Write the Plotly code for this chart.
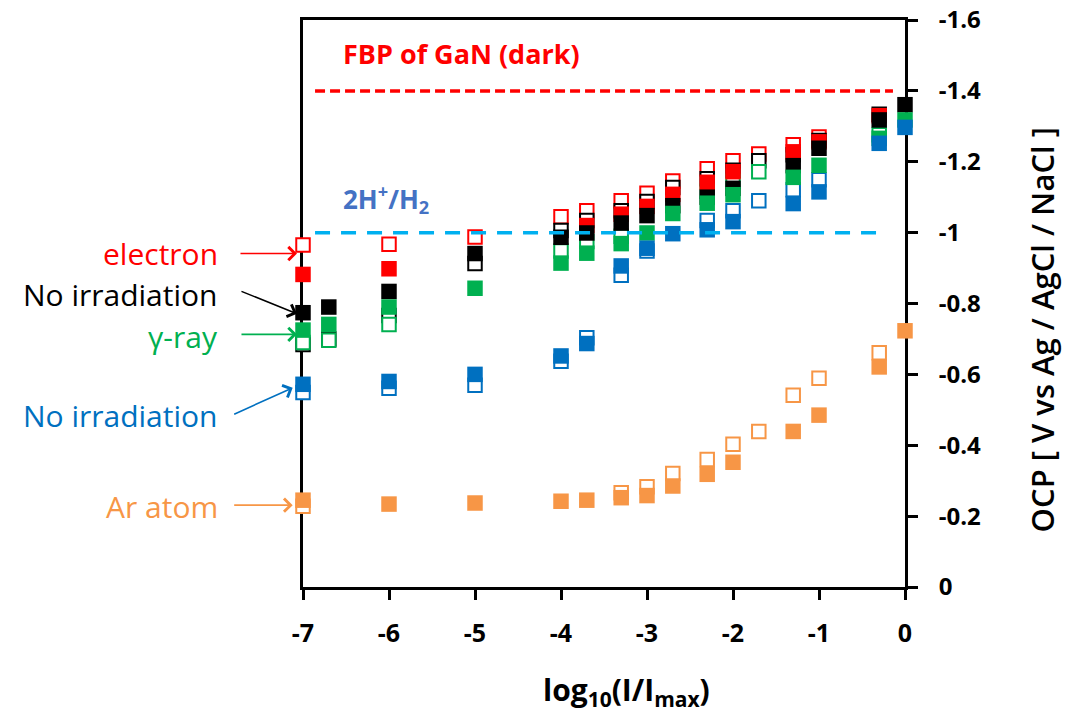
import plotly.graph_objects as go

# log10(I/Imax) positions
x_red_filled = [-7, -6, -3.7, -3.3, -3, -2.7, -2.3, -2, -1.3, -1, -0.3]
y_red_filled = [-0.882, -0.898, -1.020, -1.052, -1.074, -1.108, -1.142, -1.172, -1.228, -1.256, -1.330]
x_red_open = [-7, -6, -5, -4, -3.7, -3.3, -3, -2.7, -2.3, -2, -1.7, -1.3, -1]
y_red_open = [-0.965, -0.967, -0.988, -1.045, -1.062, -1.090, -1.111, -1.146, -1.180, -1.203, -1.222, -1.248, -1.270]

x_black_filled = [-7, -6.7, -6, -5, -4, -3.7, -3.3, -3, -2.7, -2.3, -2, -1.3, -1, -0.3, 0]
y_black_filled = [-0.774, -0.790, -0.834, -0.941, -0.987, -0.999, -1.027, -1.048, -1.076, -1.100, -1.125, -1.189, -1.238, -1.318, -1.361]
x_black_open = [-7, -6.7, -6, -5, -4, -3.7, -3.3, -3, -2.7, -2.3, -2, -1.7, -1.3, -1, -0.3]
y_black_open = [-0.684, -0.700, -0.766, -0.913, -1.006, -1.034, -1.062, -1.088, -1.127, -1.152, -1.176, -1.203, -1.220, -1.260, -1.334]

x_green_filled = [-7, -6.7, -6, -5, -4, -3.7, -3.3, -3, -2.7, -2.3, -2, -1.3, -1, -0.3, 0]
y_green_filled = [-0.725, -0.741, -0.790, -0.843, -0.914, -0.942, -0.969, -0.999, -1.054, -1.083, -1.107, -1.156, -1.190, -1.266, -1.318]
x_green_open = [-7, -6.7, -6, -4, -3.7, -3.3, -2.3, -2, -1.7, -0.3]
y_green_open = [-0.690, -0.696, -0.741, -0.948, -0.975, -0.990, -1.117, -1.144, -1.172, -1.276]

x_blue_filled = [-7, -6, -5, -4, -3.7, -3.3, -3, -2.7, -2.3, -2, -1.3, -1, -0.3, 0]
y_blue_filled = [-0.572, -0.580, -0.600, -0.652, -0.687, -0.906, -0.956, -0.997, -1.008, -1.031, -1.082, -1.115, -1.252, -1.297]
x_blue_open = [-7, -6, -5, -4, -3.7, -3.3, -3, -2.3, -2, -1.7, -1.3, -1]
y_blue_open = [-0.549, -0.561, -0.569, -0.637, -0.703, -0.880, -0.948, -1.034, -1.062, -1.090, -1.121, -1.149]

x_orange_filled = [-7, -6, -5, -4, -3.7, -3.3, -3, -2.7, -2.3, -2, -1.3, -1, -0.3, 0]
y_orange_filled = [-0.245, -0.234, -0.237, -0.242, -0.245, -0.252, -0.258, -0.285, -0.318, -0.352, -0.439, -0.485, -0.621, -0.723]
x_orange_open = [-7, -3.3, -3, -2.7, -2.3, -2, -1.7, -1.3, -1, -0.3]
y_orange_open = [-0.228, -0.266, -0.283, -0.320, -0.360, -0.403, -0.439, -0.541, -0.589, -0.661]

x_ticks = [-7, -6, -5, -4, -3, -2, -1, 0]
x_tick_text = ["-7", "-6", "-5", "-4", "-3", "-2", "-1", "0"]
y_ticks = [-1.6, -1.4, -1.2, -1.0, -0.8, -0.6, -0.4, -0.2, 0]
y_tick_text = ["-1.6", "-1.4", "-1.2", "-1", "-0.8", "-0.6", "-0.4", "-0.2", "0"]

fbp_level = -1.4
h2_level = -1.0

RED = "#FF0000"
BLACK = "#000000"
GREEN = "#00B050"
BLUE = "#0070C0"
ORANGE = "#F79646"
FONT = "Open Sans"

W, H = 1069, 713
M_L, M_R, M_T, M_B = 303, 164, 20, 126
X_RANGE = [-7, 0]
Y_RANGE = [0, -1.6]


def paper_x(v):
    return (v - X_RANGE[0]) / (X_RANGE[1] - X_RANGE[0])


def paper_y(v):
    return (v - Y_RANGE[0]) / (Y_RANGE[1] - Y_RANGE[0])


fig = go.Figure()

open_series = [
    (x_red_open, y_red_open, RED),
    (x_black_open, y_black_open, BLACK),
    (x_green_open, y_green_open, GREEN),
    (x_blue_open, y_blue_open, BLUE),
    (x_orange_open, y_orange_open, ORANGE),
]
filled_series = [
    (x_red_filled, y_red_filled, RED),
    (x_black_filled, y_black_filled, BLACK),
    (x_green_filled, y_green_filled, GREEN),
    (x_blue_filled, y_blue_filled, BLUE),
    (x_orange_filled, y_orange_filled, ORANGE),
]

for xs, ys, col in open_series:
    fig.add_trace(go.Scatter(
        x=xs, y=ys, mode="markers", cliponaxis=False, showlegend=False,
        marker=dict(symbol="square", size=13.5, color="white",
                    line=dict(color=col, width=2)),
    ))

for xs, ys, col in filled_series:
    fig.add_trace(go.Scatter(
        x=xs, y=ys, mode="markers", cliponaxis=False, showlegend=False,
        marker=dict(symbol="square", size=15.5, color=col, line=dict(width=0)),
    ))

# reference potentials
fig.add_shape(type="line", xref="x", yref="y", x0=-6.86, x1=-0.14,
              y0=fbp_level, y1=fbp_level, layer="above",
              line=dict(color=RED, width=3.5, dash="10px,5px"))
fig.add_shape(type="line", xref="x", yref="y", x0=-6.86, x1=-0.24,
              y0=h2_level, y1=h2_level, layer="above",
              line=dict(color="#00B0F0", width=3.5, dash="15px,11px"))

fig.add_annotation(x=-5.16, y=-1.505, xref="x", yref="y", showarrow=False,
                   xanchor="center", yanchor="middle",
                   text="<b>FBP of GaN (dark)</b>",
                   font=dict(family=FONT, size=27, color=RED))
fig.add_annotation(x=-6.03, y=-1.095, xref="x", yref="y", showarrow=False,
                   xanchor="center", yanchor="middle",
                   text="<b>2H<sup>+</sup>/H<sub>2</sub></b>",
                   font=dict(family=FONT, size=26, color="#4472C4"))

# series labels (text anchor, arrow head, arrow tail offset in px)
labels = [
    ("electron", RED, -0.942, -7.07, -0.941, -58, 0),
    ("No irradiation", BLACK, -0.826, -7.07, -0.771, -57, -23),
    ("γ-ray", GREEN, -0.708, -7.07, -0.713, -57, 0),
    ("No irradiation", BLUE, -0.484, -7.12, -0.562, -60, 27),
    ("Ar atom", ORANGE, -0.227, -7.12, -0.231, -60, 0),
]
for text, col, ty, hx, hy, ax, ay in labels:
    fig.add_annotation(x=paper_x(-7.96), y=paper_y(ty), xref="paper", yref="paper",
                       showarrow=False, text=text, xanchor="right", yanchor="middle",
                       font=dict(family=FONT, size=30, color=col))
    fig.add_annotation(x=paper_x(hx), y=paper_y(hy), xref="paper", yref="paper",
                       text="", showarrow=True, ax=ax, ay=ay,
                       arrowhead=4, arrowsize=1.6, arrowwidth=1.6, arrowcolor=col)

fig.add_annotation(x=0.537, y=-0.183, xref="paper", yref="paper", showarrow=False,
                   xanchor="center", yanchor="middle",
                   text="<b>log<sub>10</sub>(I/I<sub>max</sub>)</b>",
                   font=dict(family=FONT, size=30, color=BLACK))
fig.add_annotation(x=1.228, y=0.453, xref="paper", yref="paper", showarrow=False,
                   xanchor="center", yanchor="middle",
                   text="OCP [ V vs Ag / AgCl / NaCl ]", textangle=-90,
                   font=dict(family=FONT, size=31, color=BLACK, weight=600))

fig.update_layout(
    width=W, height=H,
    margin=dict(l=M_L, r=M_R, t=M_T, b=M_B, autoexpand=False),
    paper_bgcolor="white", plot_bgcolor="white",
    font=dict(family=FONT, color=BLACK),
    xaxis=dict(
        range=X_RANGE, tickvals=x_ticks, ticktext=x_tick_text, ticks="outside",
        ticklen=10, tickwidth=3, tickcolor=BLACK, automargin=False,
        showline=True, linewidth=3, linecolor=BLACK, mirror=True,
        showgrid=False, zeroline=False, layer="below traces",
        tickfont=dict(family=FONT, size=25, color=BLACK, weight="bold"),
        ticklabelstandoff=12,
    ),
    yaxis=dict(
        range=Y_RANGE, side="right", tickvals=y_ticks, ticktext=y_tick_text,
        ticks="outside", ticklen=10, tickwidth=3, tickcolor=BLACK, automargin=False,
        showline=True, linewidth=3, linecolor=BLACK, mirror=True,
        showgrid=False, zeroline=False, layer="below traces",
        tickfont=dict(family=FONT, size=24, color=BLACK, weight="bold"),
        ticklabelstandoff=16,
    ),
)

fig.write_html("out.html")
